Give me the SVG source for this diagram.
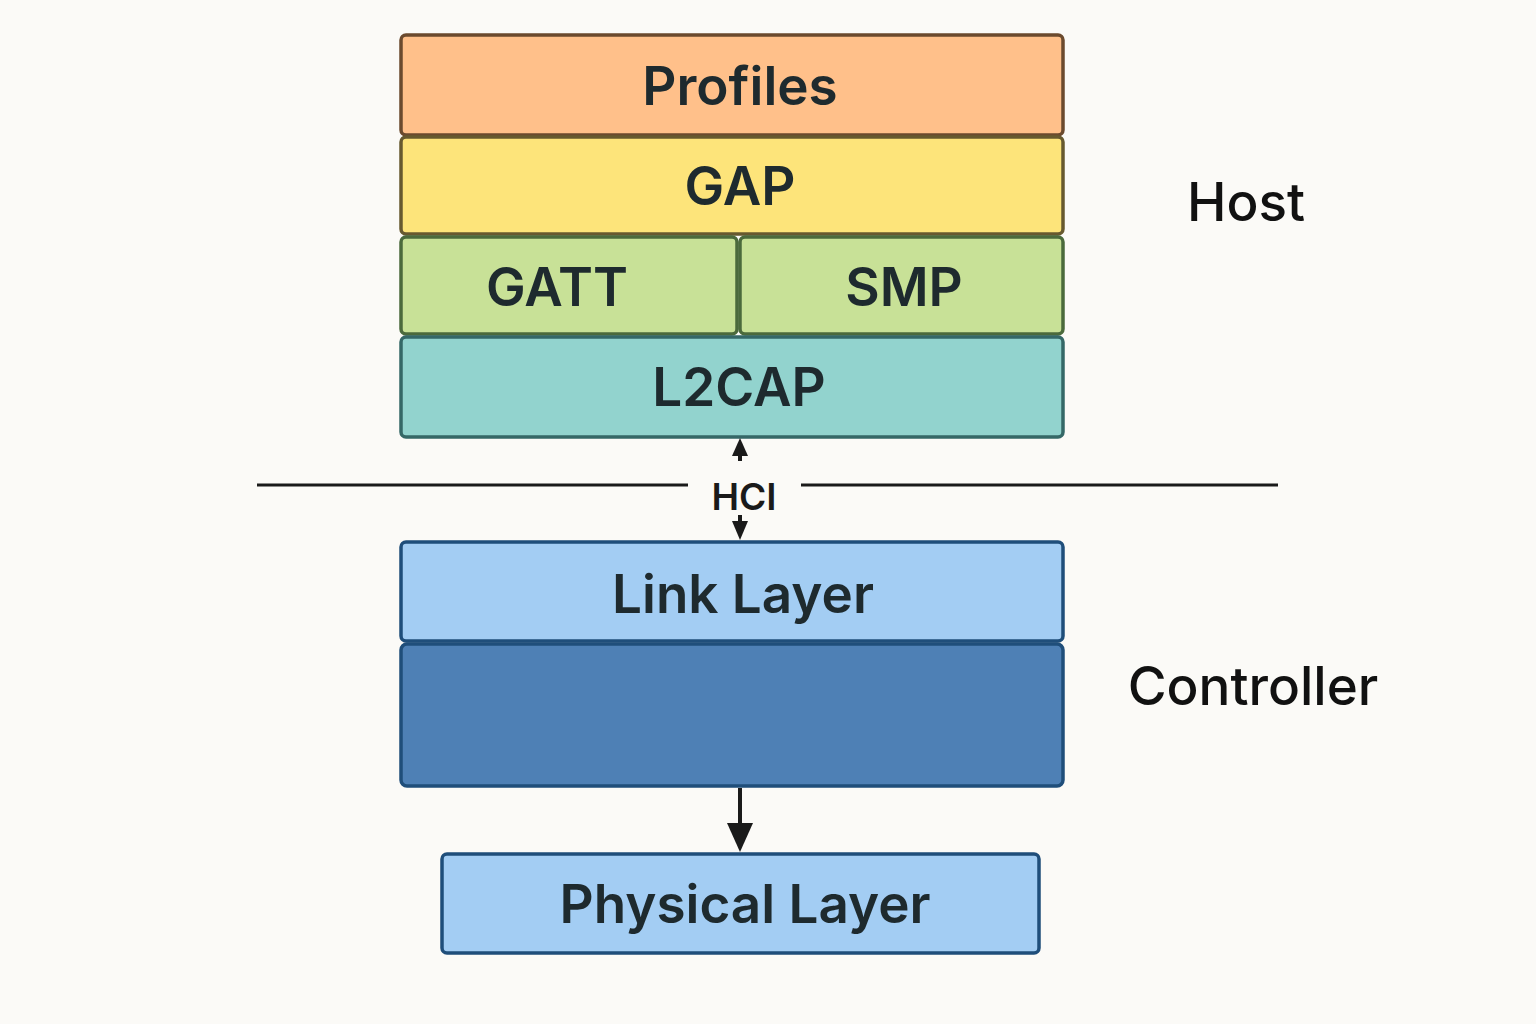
<svg xmlns="http://www.w3.org/2000/svg" width="1536" height="1024" viewBox="0 0 1536 1024">
<style>
.lbl{font-family:Inter,"Open Sans","Liberation Sans",sans-serif;font-weight:600;fill:#1e2a2e;text-anchor:middle;dominant-baseline:central}
.big{font-size:53px}
.side{font-family:Inter,"Open Sans","Liberation Sans",sans-serif;font-weight:500;fill:#111;font-size:53px;text-anchor:middle;dominant-baseline:central}
.conn{stroke:#1a1a1a;fill:none}
.head{fill:#1a1a1a}
</style>
<rect width="1536" height="1024" fill="#fbfaf7"/>
<g id="profiles">
<rect x="401" y="35" width="662" height="100" rx="5" fill="#ffc08a" stroke="#6b4a2e" stroke-width="3.5"/>
<text class="lbl big" x="740" y="86">Profiles</text>
</g>
<g id="gap">
<rect x="401" y="137" width="662" height="97" rx="5" fill="#fde47a" stroke="#67592f" stroke-width="3.5"/>
<text class="lbl big" x="740" y="186">GAP</text>
</g>
<g id="gatt">
<rect x="401" y="237" width="336" height="97" rx="5" fill="#c8e197" stroke="#4b6a3c" stroke-width="3.5"/>
<text class="lbl big" x="557" y="287">GATT</text>
</g>
<g id="smp">
<rect x="740" y="237" width="323" height="97" rx="5" fill="#c8e197" stroke="#4b6a3c" stroke-width="3.5"/>
<text class="lbl big" x="904" y="287">SMP</text>
</g>
<g id="l2cap">
<rect x="401" y="337" width="662" height="100" rx="5" fill="#92d3ce" stroke="#356867" stroke-width="3.5"/>
<text class="lbl big" x="739" y="387">L2CAP</text>
</g>
<g id="hci-line">
<line x1="257" y1="485" x2="688" y2="485" stroke="#1a1a1a" stroke-width="3"/>
<line x1="801" y1="485" x2="1278" y2="485" stroke="#1a1a1a" stroke-width="3"/>
<text class="lbl" x="744" y="496" style="font-size:37px;fill:#1a1a1a">HCI</text>
</g>
<g id="host"><text class="side" x="1246" y="202">Host</text></g>
<g id="link-layer">
<rect x="401" y="542" width="662" height="99" rx="5" fill="#a3cdf3" stroke="#1f4e7a" stroke-width="3.5"/>
<text class="lbl big" x="743" y="594">Link Layer</text>
</g>
<g id="controller-block">
<rect x="401" y="644" width="662" height="142" rx="6" fill="#4e80b5" stroke="#1f4e7a" stroke-width="3.5"/>
</g>
<g id="controller"><text class="side" x="1253" y="686">Controller</text></g>
<g id="physical-layer">
<rect x="442" y="854" width="597" height="99" rx="5" fill="#a3cdf3" stroke="#1f4e7a" stroke-width="3.5"/>
<text class="lbl big" x="745" y="904">Physical Layer</text>
</g>
<g id="connectors">
<line class="conn" stroke-width="4" x1="740" y1="461" x2="740" y2="452"/>
<polygon class="head" points="740,438 748,456 732,456"/>
<line class="conn" stroke-width="4" x1="740" y1="515" x2="740" y2="525"/>
<polygon class="head" points="740,540 748,521 732,521"/>
<line class="conn" stroke-width="4" x1="740" y1="788" x2="740" y2="828"/>
<polygon class="head" points="740,852 753,823 727,823"/>
</g>
</svg>
